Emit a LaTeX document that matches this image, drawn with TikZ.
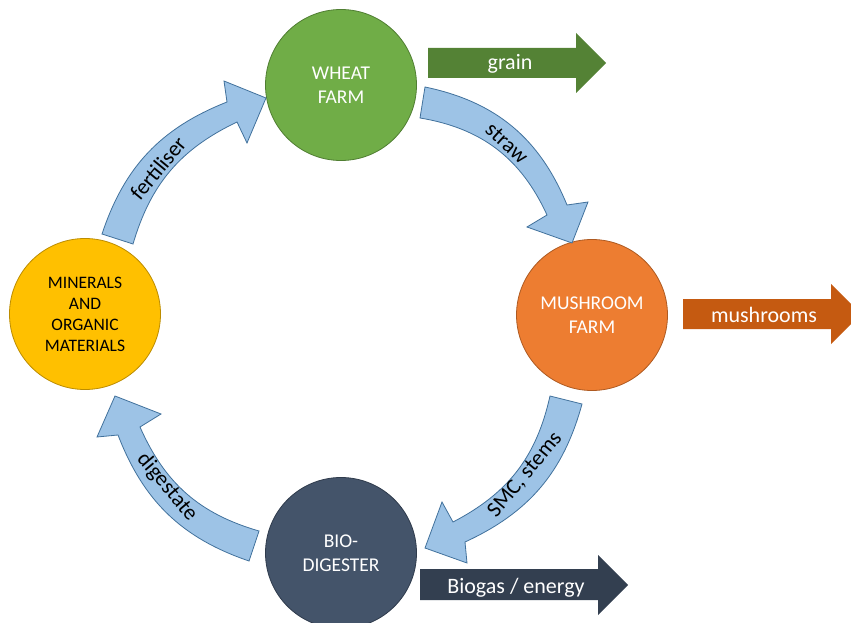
\documentclass[tikz,border=0pt]{standalone}
\usepackage{fontspec}
\setmainfont{Carlito}
\definecolor{wheatc}{HTML}{70AD47}
\definecolor{wheatb}{HTML}{507E32}
\definecolor{mushc}{HTML}{ED7D31}
\definecolor{mushb}{HTML}{AE5A21}
\definecolor{minc}{HTML}{FFC000}
\definecolor{minb}{HTML}{BC8C00}
\definecolor{bioc}{HTML}{44546A}
\definecolor{biob}{HTML}{2F3B4C}
\definecolor{flowc}{HTML}{9DC3E6}
\definecolor{flowb}{HTML}{41719C}
\definecolor{grainc}{HTML}{548235}
\definecolor{mushoutc}{HTML}{C55A11}
\definecolor{biooutc}{HTML}{333F50}
\tikzset{
  circ/.style={circle, minimum size=151pt, inner sep=0pt, align=center, line width=0.8pt,
    font=\fontsize{19.5}{24}\selectfont},
  flow/.style={fill=flowc, draw=flowb, line width=0.8pt, line join=miter},
  lbl/.style={font=\fontsize{22}{26}\selectfont, text=black, inner sep=0pt},
  outlbl/.style={font=\fontsize{22}{26}\selectfont, text=white, inner sep=0pt, anchor=base},
}
\begin{document}
\begin{tikzpicture}[x=1pt,y=1pt]
\useasboundingbox (0,0) rectangle (851,-623);
\clip (0,0) rectangle (851,-623);

% circles
\node[circ, fill=wheatc, draw=wheatb, text=white] (wheat) at (341,-85) {WHEAT\\FARM};
\node[circ, fill=mushc, draw=mushb, text=white] (mush) at (592,-315) {MUSHROOM\\FARM};
\node[circ, fill=bioc, draw=biob, text=white] (bio) at (341,-553) {BIO-\\DIGESTER};
\node[circ, fill=minc, draw=minb, text=black, font=\fontsize{17.5}{21}\selectfont] (min) at (85,-314) {MINERALS\\AND\\ORGANIC\\MATERIALS};

% curved flow arrows
\draw[flow] (102,-234) to[bend left=25] (227,-102) -- (224,-81) -- (266,-98) -- (247,-143) -- (237,-122) to[bend right=24] (133,-244) -- cycle;
\draw[flow] (425,-87) to[bend left=28] (567,-205) -- (588,-202) -- (572,-243) -- (527,-227) -- (547,-215) to[bend right=28] (420,-118) -- cycle;
\draw[flow] (582,-404) to[bend left=25] (465,-542) -- (467,-563) -- (425,-548) -- (442,-502) -- (453,-522) to[bend right=25] (550,-396) -- cycle;
\draw[flow] (249,-561) to[bend left=25] (118,-435) -- (97,-437) -- (115,-396) -- (161,-414) -- (140,-427) to[bend right=25] (259,-531) -- cycle;

\node[lbl, rotate=50.5] (tfert) at (158,-168) {fertiliser};
\node[lbl, rotate=-42] (tstraw) at (507,-143) {straw};
\node[lbl, rotate=50.3] (tsmc) at (525,-475) {SMC, stems};
\node[lbl, rotate=-50] (tdig) at (167,-487) {digestate};

% output arrows
\fill[grainc] (428,-48) -- (576,-48) -- (576,-33) -- (606,-63) -- (576,-93) -- (576,-78) -- (428,-78) -- cycle;
\node[outlbl] (tgrain) at (510,-70) {grain};
\fill[mushoutc] (683,-299) -- (831,-299) -- (831,-284) -- (861,-314) -- (831,-344) -- (831,-329) -- (683,-329) -- cycle;
\node[outlbl] (tmush) at (764,-322) {mushrooms};
\fill[biooutc] (420,-569) -- (598,-569) -- (598,-555) -- (628,-585) -- (598,-615) -- (598,-600) -- (420,-600) -- cycle;
\node[outlbl] (tbio) at (516,-593) {Biogas / energy};
\end{tikzpicture}
\end{document}
